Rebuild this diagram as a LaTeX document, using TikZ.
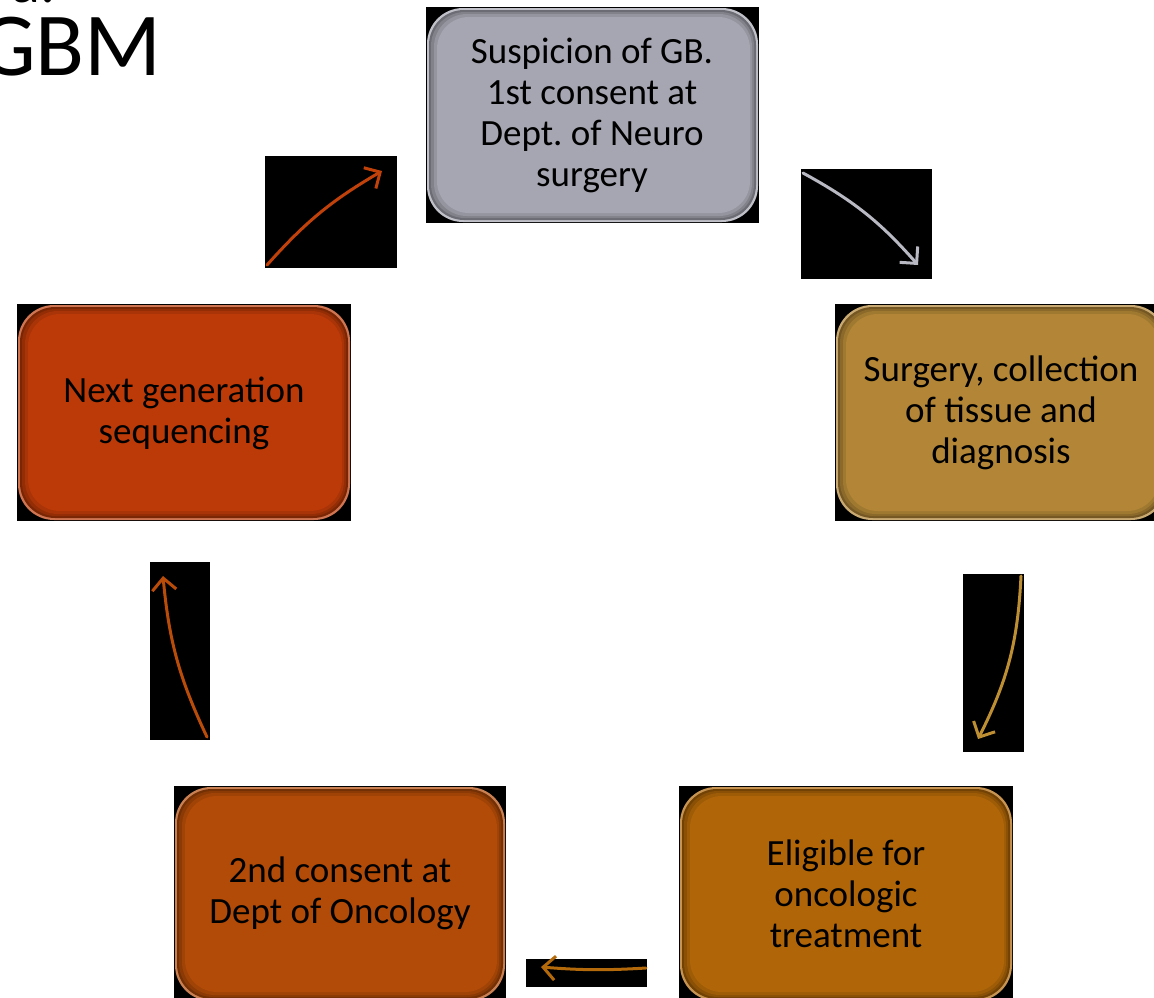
\documentclass[tikz,border=0pt]{standalone}
\usepackage{fontspec}
\setmainfont{Carlito}
\frenchspacing
\usetikzlibrary{arrows.meta}
\definecolor{cgray}{RGB}{166,166,178}
\definecolor{cgold}{RGB}{178,134,54}
\definecolor{cred}{RGB}{188,58,8}
\definecolor{cora}{RGB}{176,102,8}
\definecolor{cbro}{RGB}{178,74,8}
\definecolor{agray}{RGB}{185,185,196}
\definecolor{agold}{RGB}{190,142,50}
\definecolor{ared}{RGB}{192,66,10}
\definecolor{aora}{RGB}{180,106,10}
\definecolor{abro}{RGB}{186,76,10}
\newcommand{\mybox}[5]{%
  \fill[black] (#1-1,#2-1) rectangle (#3+1,#4+1);
  \fill[rounded corners=36pt, #5!70!white] (#1,#2) rectangle (#3,#4);
  \fill[rounded corners=35pt, #5!65!black] (#1+2,#2+2) rectangle (#3-2,#4-2);
  \fill[rounded corners=34pt, #5!78!black] (#1+4,#2+4) rectangle (#3-4,#4-4);
  \fill[rounded corners=33pt, #5!90!black] (#1+7,#2+6) rectangle (#3-6,#4-6);
  \fill[rounded corners=32pt, #5] (#1+10,#2+9) rectangle (#3-8,#4-9);
}
\tikzset{
  boxtext/.style={align=center, inner sep=0pt, text=black,
    font=\fontsize{37}{41}\selectfont},
  arrowbg/.style={fill=black, inner sep=0pt, draw=none},
  flow/.style={line width=3pt, line cap=round,
    -{Straight Barb[length=12pt,width=24pt,line width=3pt]}}
}
\begin{document}
\begin{tikzpicture}[x=1pt,y=-1pt]
\useasboundingbox (0,0) rectangle (1154,997);
% title
\node[anchor=base east, inner sep=0pt, font=\fontsize{90}{100}\selectfont] (title) at (162,75) {GBM};
\node[anchor=base east, inner sep=0pt, font=\fontsize{60}{70}\selectfont] (titlea) at (56,2) {a.};
% boxes
\mybox{427}{8}{758}{222}{cgray}
\mybox{836}{305}{1167}{520}{cgold}
\mybox{18}{305}{350}{520}{cred}
\mybox{680}{787}{1012}{1001}{cora}
\mybox{175}{787}{505}{1001}{cbro}
\node[boxtext] (b1) at (592,115) {Suspicion of GB.\\1st consent at\\Dept. of Neuro\\surgery};
\node[boxtext] (b2) at (1001,413) {Surgery, collection\\of tissue and\\diagnosis};
\node[boxtext] (b5) at (184,413) {Next generation\\sequencing};
\node[boxtext] (b3) at (846,894) {Eligible for\\oncologic\\treatment};
\node[boxtext] (b4) at (340,893) {2nd consent at\\Dept of Oncology};
% arrow backgrounds
\node[arrowbg, minimum width=132pt, minimum height=112pt] (r1) at (331,212) {};
\node[arrowbg, minimum width=131pt, minimum height=110pt] (r2) at (866.5,224) {};
\node[arrowbg, minimum width=61pt, minimum height=178pt] (r3) at (993.5,663) {};
\node[arrowbg, minimum width=121pt, minimum height=28pt] (r4) at (586.5,973) {};
\node[arrowbg, minimum width=60pt, minimum height=178pt] (r5) at (180,651) {};
% arrow ends
\coordinate (s1) at (267,265); \coordinate (e1) at (382,171);
\coordinate (s2) at (803,173); \coordinate (e2) at (918,265);
\coordinate (s3) at (1021,576); \coordinate (e3) at (978,739);
\coordinate (s4) at (646,968); \coordinate (e4) at (541,967);
\coordinate (s5) at (207,737); \coordinate (e5) at (163,576);
\draw[flow, ared] (s1) to[bend left=9] (e1);
\draw[flow, agray] (s2) to[bend left=10] (e2);
\draw[flow, agold] (s3) to[bend left=12] (e3);
\draw[flow, aora] (s4) to[bend left=4] (e4);
\draw[flow, abro] (s5) to[bend left=10] (e5);
\end{tikzpicture}
\end{document}
